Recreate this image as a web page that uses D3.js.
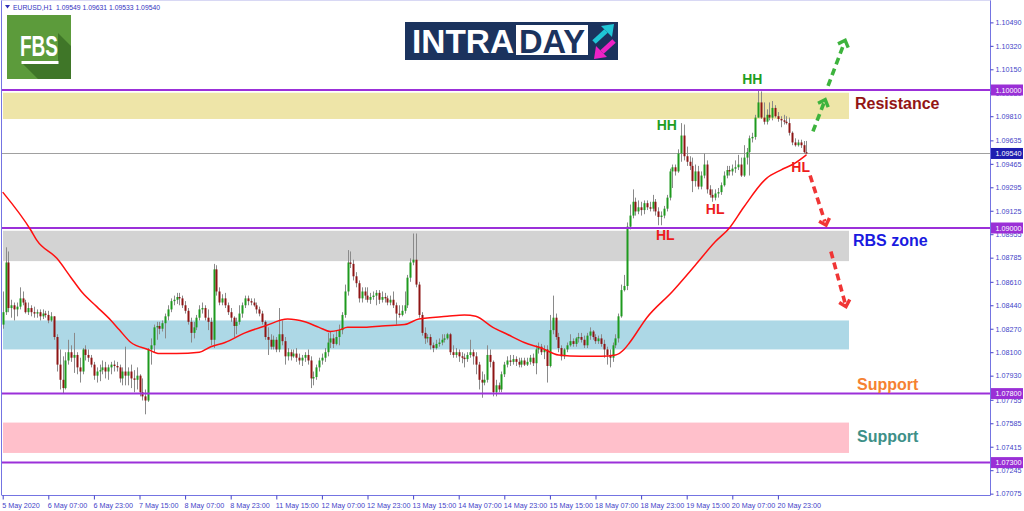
<!DOCTYPE html>
<html><head><meta charset="utf-8">
<script src="https://cdn.jsdelivr.net/npm/d3@7"></script>
<style>html,body{margin:0;padding:0;background:#fff;overflow:hidden}svg{display:block}</style>
</head><body><svg id="c" width="1024" height="511"></svg>
<script>
// ---------------- DATA ----------------
const headerText = "EURUSD,H1  1.09549 1.09631 1.09533 1.09540";
const timeLabels = ["5 May 2020","6 May 07:00","6 May 23:00","7 May 15:00","8 May 07:00","8 May 23:00",
  "11 May 15:00","12 May 07:00","12 May 23:00","13 May 15:00","14 May 07:00","14 May 23:00",
  "15 May 15:00","18 May 07:00","18 May 23:00","19 May 15:00","20 May 07:00","20 May 23:00"];
const barsPerLabel = 16;
const priceTicks = [1.10490,1.10320,1.10150,1.09980,1.09810,1.09635,1.09465,1.09295,1.09125,1.08955,
  1.08785,1.08610,1.08440,1.08270,1.08100,1.07930,1.07755,1.07585,1.07415,1.07245,1.07075];
// hourly candles: [open, high, low, close]
const ohlc = [
[1.0830,1.0854,1.0827,1.0839],[1.0839,1.0886,1.0837,1.0875],[1.0875,1.0883,1.0839,1.0842],[1.0842,1.0848,1.0835,1.0844],[1.0844,1.0846,1.0833,1.0841],
[1.0841,1.0846,1.0836,1.0843],[1.0843,1.0857,1.0841,1.0849],[1.0849,1.0854,1.0844,1.0846],[1.0846,1.0848,1.0838,1.0839],[1.0839,1.0846,1.0837,1.0842],
[1.0842,1.0844,1.0836,1.0839],[1.0839,1.0843,1.0835,1.0838],[1.0838,1.0841,1.0835,1.0839],[1.0839,1.0841,1.0833,1.0836],[1.0836,1.0841,1.0834,1.0838],
[1.0838,1.0840,1.0835,1.0837],[1.0837,1.0840,1.0831,1.0833],[1.0833,1.0839,1.0832,1.0836],[1.0836,1.0836,1.0819,1.0821],[1.0821,1.0823,1.0796,1.0801],
[1.0801,1.0812,1.0783,1.0790],[1.0790,1.0807,1.0780,1.0784],[1.0784,1.0810,1.0783,1.0804],[1.0804,1.0819,1.0801,1.0810],[1.0810,1.0815,1.0803,1.0806],
[1.0806,1.0824,1.0795,1.0808],[1.0808,1.0810,1.0794,1.0799],[1.0799,1.0806,1.0788,1.0796],[1.0796,1.0813,1.0794,1.0812],[1.0812,1.0815,1.0804,1.0808],
[1.0808,1.0812,1.0803,1.0806],[1.0806,1.0808,1.0799,1.0801],[1.0801,1.0803,1.0790,1.0793],[1.0793,1.0799,1.0788,1.0796],[1.0796,1.0801,1.0789,1.0797],
[1.0797,1.0804,1.0794,1.0799],[1.0799,1.0803,1.0791,1.0796],[1.0796,1.0801,1.0790,1.0799],[1.0799,1.0803,1.0794,1.0801],[1.0801,1.0804,1.0796,1.0800],
[1.0800,1.0803,1.0796,1.0799],[1.0799,1.0801,1.0788,1.0791],[1.0791,1.0799,1.0786,1.0796],[1.0796,1.0814,1.0786,1.0793],[1.0793,1.0799,1.0786,1.0796],
[1.0796,1.0801,1.0784,1.0791],[1.0791,1.0797,1.0781,1.0790],[1.0790,1.0799,1.0783,1.0793],[1.0793,1.0794,1.0778,1.0781],[1.0781,1.0791,1.0775,1.0778],
[1.0778,1.0783,1.0765,1.0775],[1.0775,1.0813,1.0774,1.0812],[1.0812,1.0820,1.0801,1.0815],[1.0815,1.0830,1.0810,1.0828],[1.0828,1.0832,1.0819,1.0829],
[1.0829,1.0832,1.0823,1.0827],[1.0827,1.0833,1.0825,1.0831],[1.0831,1.0838,1.0820,1.0836],[1.0836,1.0844,1.0833,1.0841],[1.0841,1.0849,1.0839,1.0847],
[1.0847,1.0851,1.0844,1.0848],[1.0848,1.0853,1.0845,1.0850],[1.0850,1.0853,1.0844,1.0849],[1.0849,1.0851,1.0842,1.0844],[1.0844,1.0847,1.0838,1.0840],
[1.0840,1.0842,1.0830,1.0832],[1.0832,1.0835,1.0817,1.0824],[1.0824,1.0832,1.0820,1.0828],[1.0828,1.0837,1.0826,1.0835],[1.0835,1.0844,1.0833,1.0841],
[1.0841,1.0846,1.0838,1.0842],[1.0842,1.0844,1.0833,1.0835],[1.0835,1.0841,1.0826,1.0832],[1.0832,1.0835,1.0815,1.0819],[1.0819,1.0874,1.0813,1.0870],
[1.0870,1.0873,1.0851,1.0854],[1.0854,1.0857,1.0844,1.0846],[1.0846,1.0852,1.0844,1.0849],[1.0849,1.0853,1.0842,1.0844],[1.0844,1.0846,1.0837,1.0839],
[1.0839,1.0842,1.0832,1.0835],[1.0835,1.0836,1.0821,1.0829],[1.0829,1.0835,1.0823,1.0832],[1.0832,1.0844,1.0830,1.0838],[1.0838,1.0846,1.0835,1.0844],
[1.0844,1.0851,1.0842,1.0849],[1.0849,1.0851,1.0844,1.0847],[1.0847,1.0849,1.0844,1.0846],[1.0846,1.0849,1.0843,1.0844],[1.0844,1.0846,1.0838,1.0841],
[1.0841,1.0843,1.0836,1.0838],[1.0838,1.0840,1.0830,1.0832],[1.0832,1.0833,1.0819,1.0821],[1.0821,1.0828,1.0808,1.0819],[1.0819,1.0823,1.0812,1.0814],
[1.0814,1.0822,1.0812,1.0819],[1.0819,1.0821,1.0810,1.0812],[1.0812,1.0842,1.0810,1.0823],[1.0823,1.0833,1.0815,1.0818],[1.0818,1.0821,1.0801,1.0807],
[1.0807,1.0813,1.0804,1.0810],[1.0810,1.0812,1.0804,1.0807],[1.0807,1.0812,1.0806,1.0809],[1.0809,1.0813,1.0803,1.0806],[1.0806,1.0809,1.0801,1.0804],
[1.0804,1.0808,1.0800,1.0806],[1.0806,1.0810,1.0803,1.0808],[1.0808,1.0812,1.0801,1.0804],[1.0804,1.0807,1.0784,1.0791],[1.0791,1.0796,1.0786,1.0792],
[1.0792,1.0801,1.0790,1.0799],[1.0799,1.0806,1.0796,1.0804],[1.0804,1.0809,1.0801,1.0806],[1.0806,1.0813,1.0803,1.0810],[1.0810,1.0824,1.0807,1.0817],
[1.0817,1.0825,1.0813,1.0820],[1.0820,1.0823,1.0813,1.0816],[1.0816,1.0826,1.0815,1.0821],[1.0821,1.0830,1.0815,1.0826],[1.0826,1.0839,1.0823,1.0837],
[1.0837,1.0859,1.0835,1.0854],[1.0854,1.0884,1.0851,1.0875],[1.0875,1.0883,1.0871,1.0874],[1.0874,1.0877,1.0862,1.0865],[1.0865,1.0868,1.0857,1.0860],
[1.0860,1.0862,1.0846,1.0849],[1.0849,1.0857,1.0846,1.0854],[1.0854,1.0857,1.0848,1.0851],[1.0851,1.0857,1.0846,1.0848],[1.0848,1.0853,1.0845,1.0850],
[1.0850,1.0854,1.0848,1.0851],[1.0851,1.0855,1.0844,1.0853],[1.0853,1.0855,1.0845,1.0848],[1.0848,1.0854,1.0846,1.0850],[1.0850,1.0853,1.0846,1.0849],
[1.0849,1.0851,1.0844,1.0846],[1.0846,1.0851,1.0844,1.0848],[1.0848,1.0854,1.0842,1.0844],[1.0844,1.0846,1.0830,1.0838],[1.0838,1.0844,1.0835,1.0837],
[1.0837,1.0844,1.0836,1.0840],[1.0840,1.0854,1.0838,1.0844],[1.0844,1.0866,1.0842,1.0864],[1.0864,1.0878,1.0861,1.0875],[1.0875,1.0896,1.0873,1.0877],
[1.0877,1.0896,1.0857,1.0859],[1.0859,1.0861,1.0835,1.0837],[1.0837,1.0839,1.0822,1.0824],[1.0824,1.0828,1.0816,1.0820],[1.0820,1.0823,1.0817,1.0821],
[1.0821,1.0823,1.0812,1.0815],[1.0815,1.0817,1.0810,1.0813],[1.0813,1.0819,1.0812,1.0816],[1.0816,1.0820,1.0814,1.0817],[1.0817,1.0823,1.0815,1.0819],
[1.0819,1.0823,1.0817,1.0820],[1.0820,1.0824,1.0819,1.0823],[1.0823,1.0824,1.0808,1.0810],[1.0810,1.0815,1.0806,1.0808],[1.0808,1.0813,1.0806,1.0810],
[1.0810,1.0812,1.0803,1.0807],[1.0807,1.0810,1.0802,1.0806],[1.0806,1.0809,1.0799,1.0805],[1.0805,1.0810,1.0803,1.0808],[1.0808,1.0819,1.0806,1.0810],
[1.0810,1.0812,1.0801,1.0807],[1.0807,1.0810,1.0794,1.0801],[1.0801,1.0803,1.0783,1.0790],[1.0790,1.0796,1.0777,1.0788],[1.0788,1.0794,1.0786,1.0790],
[1.0790,1.0815,1.0788,1.0808],[1.0808,1.0812,1.0799,1.0803],[1.0803,1.0804,1.0778,1.0781],[1.0781,1.0790,1.0778,1.0786],[1.0786,1.0788,1.0781,1.0783],
[1.0783,1.0796,1.0781,1.0794],[1.0794,1.0803,1.0792,1.0801],[1.0801,1.0807,1.0799,1.0804],[1.0804,1.0808,1.0800,1.0803],[1.0803,1.0808,1.0801,1.0805],
[1.0805,1.0807,1.0800,1.0803],[1.0803,1.0806,1.0799,1.0801],[1.0801,1.0806,1.0799,1.0804],[1.0804,1.0806,1.0800,1.0801],[1.0801,1.0806,1.0800,1.0803],
[1.0803,1.0808,1.0801,1.0806],[1.0806,1.0809,1.0800,1.0802],[1.0802,1.0815,1.0794,1.0812],[1.0812,1.0817,1.0809,1.0814],[1.0814,1.0816,1.0808,1.0810],
[1.0810,1.0815,1.0805,1.0812],[1.0812,1.0815,1.0788,1.0800],[1.0800,1.0837,1.0799,1.0826],[1.0826,1.0851,1.0823,1.0835],[1.0835,1.0838,1.0819,1.0821],
[1.0821,1.0824,1.0810,1.0813],[1.0813,1.0815,1.0804,1.0807],[1.0807,1.0813,1.0805,1.0812],[1.0812,1.0817,1.0810,1.0815],[1.0815,1.0823,1.0814,1.0818],
[1.0818,1.0820,1.0814,1.0816],[1.0816,1.0821,1.0814,1.0820],[1.0820,1.0824,1.0817,1.0821],[1.0821,1.0824,1.0817,1.0819],[1.0819,1.0822,1.0813,1.0815],
[1.0815,1.0824,1.0813,1.0822],[1.0822,1.0828,1.0819,1.0825],[1.0825,1.0826,1.0819,1.0821],[1.0821,1.0823,1.0816,1.0818],[1.0818,1.0822,1.0816,1.0820],
[1.0820,1.0823,1.0814,1.0816],[1.0816,1.0819,1.0806,1.0812],[1.0812,1.0814,1.0801,1.0808],[1.0808,1.0812,1.0799,1.0806],[1.0806,1.0817,1.0803,1.0815],
[1.0815,1.0823,1.0813,1.0820],[1.0820,1.0838,1.0817,1.0836],[1.0836,1.0859,1.0835,1.0855],[1.0855,1.0866,1.0854,1.0858],[1.0858,1.0904,1.0855,1.0901],
[1.0901,1.0917,1.0899,1.0909],[1.0909,1.0928,1.0907,1.0919],[1.0919,1.0922,1.0909,1.0912],[1.0912,1.0920,1.0910,1.0915],[1.0915,1.0919,1.0909,1.0913],
[1.0913,1.0920,1.0910,1.0918],[1.0918,1.0920,1.0913,1.0915],[1.0915,1.0919,1.0912,1.0914],[1.0914,1.0924,1.0912,1.0919],[1.0919,1.0921,1.0909,1.0912],
[1.0912,1.0915,1.0902,1.0908],[1.0908,1.0912,1.0902,1.0909],[1.0909,1.0916,1.0907,1.0914],[1.0914,1.0924,1.0912,1.0922],[1.0922,1.0943,1.0920,1.0941],
[1.0941,1.0946,1.0929,1.0944],[1.0944,1.0946,1.0938,1.0941],[1.0941,1.0957,1.0940,1.0954],[1.0954,1.0976,1.0948,1.0967],[1.0967,1.0975,1.0949,1.0952],
[1.0952,1.0959,1.0945,1.0948],[1.0948,1.0952,1.0942,1.0945],[1.0945,1.0951,1.0926,1.0934],[1.0934,1.0946,1.0930,1.0941],[1.0941,1.0945,1.0928,1.0930],
[1.0930,1.0941,1.0928,1.0938],[1.0938,1.0954,1.0936,1.0946],[1.0946,1.0949,1.0925,1.0928],[1.0928,1.0931,1.0922,1.0924],[1.0924,1.0928,1.0919,1.0922],
[1.0922,1.0928,1.0920,1.0925],[1.0925,1.0929,1.0922,1.0926],[1.0926,1.0933,1.0924,1.0931],[1.0931,1.0941,1.0930,1.0938],[1.0938,1.0945,1.0936,1.0942],
[1.0942,1.0945,1.0938,1.0941],[1.0941,1.0946,1.0938,1.0943],[1.0943,1.0949,1.0940,1.0944],[1.0944,1.0953,1.0942,1.0946],[1.0946,1.0951,1.0937,1.0938],
[1.0938,1.0960,1.0937,1.0951],[1.0951,1.0958,1.0946,1.0955],[1.0955,1.0967,1.0938,1.0965],[1.0965,1.0969,1.0962,1.0966],[1.0966,1.0982,1.0964,1.0980],
[1.0980,1.1000,1.0980,1.0991],[1.0991,1.0999,1.0979,1.0980],[1.0980,1.0991,1.0975,1.0977],[1.0977,1.0986,1.0975,1.0982],[1.0982,1.0991,1.0978,1.0980],
[1.0980,1.0992,1.0978,1.0987],[1.0987,1.0989,1.0980,1.0981],[1.0981,1.0984,1.0977,1.0979],[1.0979,1.0981,1.0973,1.0978],[1.0978,1.0982,1.0975,1.0977],
[1.0977,1.0981,1.0975,1.0976],[1.0976,1.0980,1.0967,1.0969],[1.0969,1.0970,1.0960,1.0962],[1.0962,1.0965,1.0959,1.0960],[1.0960,1.0964,1.0959,1.0962],
[1.0962,1.0964,1.0958,1.0960],[1.0960,1.0963,1.0954,1.0955],[1.09549,1.09631,1.09533,1.09540]
];
// moving average read at these bars
const maIndex = [0,10,12,19,24,28,33,38,41,45,51,55,61,69,73,78,85,92,100,106,111,115,118,121,127,133,141,146,156,162,166,172,177,183,189,195,203,210,215,218,220,226,235,243,250,255,260,268,273,278,282];
const maValue = [1.0926,1.0898,1.0891,1.0878,1.0864,1.0853,1.0843,1.0833,1.0826,1.0817,1.0812,1.0809,1.0809,1.0810,1.0814,1.0817,1.0824,1.0829,1.0834,1.0832,1.0828,1.0825,1.0826,1.0828,1.0828,1.0829,1.0830,1.0834,1.0836,1.0837,1.0836,1.0828,1.0823,1.0817,1.0813,1.0808,1.0807,1.0807,1.0808,1.0812,1.0817,1.0835,1.0854,1.0873,1.0890,1.0900,1.0915,1.0936,1.0942,1.0947,1.0953];
const levelLines = [1.10000, 1.09000, 1.07800, 1.07300];
const currentPrice = 1.09540;
const zoneHigh = [1.0998, 1.0898, 1.0833, 1.0759];
const zoneLow  = [1.0979, 1.0876, 1.0812, 1.0737];
const zoneNames = ["Resistance", "RBS zone", "Support", "Support"];
const zoneNamePrice = [1.0990, 1.0891, 1.0787, 1.0749];
const swingText  = ["HH","HH","HL","HL","HL"];
const swingBar   = [233, 263, 232.5, 250, 280];
const swingPrice = [1.0975, 1.1008, 1.0895, 1.0914, 1.0944];
// projection arrows: [startBar, startPrice, endBar, endPrice]
const upArrows   = [[284.3,1.0970,288.6,1.0993],[289.6,1.1003,295.6,1.1036]];
const downArrows = [[283.3,1.0938,288.9,1.0902],[290.6,1.0883,295.9,1.0843]];

// ---------------- DRAWING ----------------
const svg = d3.select('#c');
const axisColor = '#4343C8', frameColor = '#7474E2';
const levelColor = '#9B30D9';
const N = ohlc.length;
const x = d3.scaleLinear().domain([0, N - 1]).range([2.7, 806.4]);
const y = d3.scaleLinear().domain([1.09, 1.10]).range([228, 90]);
const plot = {l: 2, r: 990, t: 1, b: 495};
const zoneRight = 849;

svg.append('defs').append('clipPath').attr('id','pc').append('rect')
  .attr('x', plot.l).attr('y', plot.t).attr('width', plot.r - plot.l).attr('height', plot.b - plot.t);
const g = svg.append('g').attr('clip-path','url(#pc)');

// zones
const zoneColors = ['#EEE5A8', '#D3D3D3', '#ADD8E6', '#FFC0CB'];
g.selectAll('rect.zone').data(zoneHigh).join('rect').attr('class','zone')
  .attr('x', plot.l + 1).attr('width', zoneRight - plot.l - 1)
  .attr('y', (d) => y(d)).attr('height', (d, i) => y(zoneLow[i]) - y(d))
  .attr('fill', (d, i) => zoneColors[i]);

// current price line
g.append('line').attr('x1', plot.l).attr('x2', plot.r)
  .attr('y1', Math.round(y(currentPrice)) + 0.5).attr('y2', Math.round(y(currentPrice)) + 0.5)
  .attr('stroke', '#a0a0a0').attr('stroke-width', 1);

// candles
const cg = g.append('g');
ohlc.forEach((d, i) => {
  const [o, h, l, c] = d;
  const cx = Math.round(x(i)) + 0.5;
  cg.append('line').attr('x1', cx).attr('x2', cx).attr('y1', y(h)).attr('y2', y(l))
    .attr('stroke', '#8a8a8a').attr('stroke-width', 1);
  const top = y(Math.max(o, c)), bot = y(Math.min(o, c));
  cg.append('rect').attr('x', cx - 1).attr('width', 2)
    .attr('y', top).attr('height', Math.max(1, bot - top))
    .attr('fill', c >= o ? '#1E9A1E' : '#8E1414');
});

// level lines
g.selectAll('line.lvl').data(levelLines).join('line').attr('class','lvl')
  .attr('x1', plot.l).attr('x2', plot.r).attr('y1', (d) => y(d)).attr('y2', (d) => y(d))
  .attr('stroke', levelColor).attr('stroke-width', 2);

// moving average
const ma = maIndex.map((b, i) => [b, maValue[i]]);
g.append('path').datum(ma)
  .attr('d', d3.line().x((d) => x(d[0])).y((d) => y(d[1])).curve(d3.curveMonotoneX))
  .attr('fill', 'none').attr('stroke', '#FF1010').attr('stroke-width', 1.5);

// frame
svg.append('line').attr('x1', 1.5).attr('x2', 1.5).attr('y1', 0).attr('y2', plot.b).attr('stroke', frameColor);
svg.append('line').attr('x1', plot.r + 0.5).attr('x2', plot.r + 0.5).attr('y1', 0).attr('y2', plot.b + 0.5).attr('stroke', frameColor);
svg.append('line').attr('x1', 1.5).attr('x2', plot.r + 0.5).attr('y1', plot.b + 0.5).attr('y2', plot.b + 0.5).attr('stroke', frameColor);
svg.append('line').attr('x1', 1.5).attr('x2', plot.r + 0.5).attr('y1', 0.5).attr('y2', 0.5).attr('stroke', '#d8d8f4');

// right axis
const gy = svg.append('g').attr('transform', `translate(${plot.r + 0.5},0)`)
  .call(d3.axisRight(y).tickValues(priceTicks).tickFormat(d3.format('.5f')).tickSize(3).tickPadding(2));
gy.select('.domain').remove();
gy.selectAll('line').attr('stroke', axisColor);
gy.selectAll('text').attr('fill', axisColor).attr('font-family', 'Liberation Sans, Arial, sans-serif').attr('font-size', 7.2);

// bottom axis
const gx = svg.append('g').attr('transform', `translate(0,${plot.b + 0.5})`)
  .call(d3.axisBottom(x).tickValues(timeLabels.map((t, k) => k * barsPerLabel))
    .tickFormat((d, k) => timeLabels[k]).tickSize(4).tickPadding(3));
gx.select('.domain').remove();
gx.selectAll('line').attr('stroke', axisColor);
gx.selectAll('text').attr('fill', axisColor).attr('text-anchor', 'start').attr('dx', -1)
  .attr('font-family', 'Liberation Sans, Arial, sans-serif').attr('font-size', 7.2);

// price boxes
const boxes = levelLines.map((v) => ({v, c: '#9A2FD6'})).concat([{v: currentPrice, c: '#1E1EB0'}]);
const bg = svg.append('g');
boxes.forEach((b) => {
  bg.append('rect').attr('x', plot.r + 1).attr('y', y(b.v) - 5.5).attr('width', 32).attr('height', 11).attr('fill', b.c);
  bg.append('text').attr('x', plot.r + 5.5).attr('y', y(b.v) + 2.6).text(d3.format('.5f')(b.v))
    .attr('fill', '#fff').attr('font-family', 'Liberation Sans, Arial, sans-serif').attr('font-size', 7.2);
});

// header
svg.append('path').attr('d', 'M5,5 L10,5 L7.5,8.5 Z').attr('fill', '#2F2FB8');
svg.append('text').attr('x', 13).attr('y', 9.5).text(headerText)
  .style('white-space', 'pre')
  .attr('fill', '#3333C0').attr('font-family', 'Liberation Sans, Arial, sans-serif').attr('font-size', 6.8);

// zone labels
const zoneTextColors = ['#931515', '#1A1AE0', '#F58232', '#3D9088'];
const zoneTextX = [855, 853, 857, 857];
zoneNames.forEach((t, i) => {
  svg.append('text').attr('x', zoneTextX[i]).attr('y', y(zoneNamePrice[i])).attr('dy', '0.35em').text(t)
    .attr('fill', zoneTextColors[i]).attr('font-weight', 'bold')
    .attr('font-family', 'Liberation Sans, Arial, sans-serif').attr('font-size', 16);
});

// swing labels
swingText.forEach((t, i) => {
  svg.append('text').attr('x', x(swingBar[i])).attr('y', y(swingPrice[i])).attr('dy', '0.36em')
    .attr('text-anchor', 'middle').text(t)
    .attr('fill', t === 'HH' ? '#1F9E1F' : '#EE1C1C').attr('font-weight', 'bold')
    .attr('font-family', 'Liberation Sans, Arial, sans-serif').attr('font-size', 14);
});

// projection arrows
function drawArrow(a, color) {
  const x1 = x(a[0]), y1 = y(a[1]), x2 = x(a[2]), y2 = y(a[3]);
  const ang = Math.atan2(y2 - y1, x2 - x1);
  svg.append('line').attr('x1', x1).attr('y1', y1)
    .attr('x2', x2 - 4 * Math.cos(ang)).attr('y2', y2 - 4 * Math.sin(ang))
    .attr('stroke', color).attr('stroke-width', 3.6).attr('stroke-dasharray', '7,4.5');
  const L = 8, spread = 0.75;
  const p1 = [x2 - L * Math.cos(ang - spread), y2 - L * Math.sin(ang - spread)];
  const p2 = [x2 - L * Math.cos(ang + spread), y2 - L * Math.sin(ang + spread)];
  svg.append('path').attr('d', `M${p1[0]},${p1[1]} L${x2},${y2} L${p2[0]},${p2[1]}`)
    .attr('fill', 'none').attr('stroke', color).attr('stroke-width', 3.4).attr('stroke-linejoin', 'miter');
}
upArrows.forEach((a) => drawArrow(a, '#3DB33D'));
downArrows.forEach((a) => drawArrow(a, '#F03535'));

// FBS logo
const fbs = svg.append('g');
fbs.append('rect').attr('x', 7).attr('y', 15).attr('width', 64).attr('height', 64).attr('fill', '#5C9B3B');
fbs.append('path').attr('d', 'M58,33 L71,46 L71,79 L38,79 L23,64 L58,64 Z').attr('fill', '#3F7628');
fbs.append('text').attr('x', 20).attr('y', 55.5).text('FBS').attr('fill', '#fff').attr('font-weight', 'bold')
  .attr('font-family', 'Liberation Sans, Arial, sans-serif').attr('font-size', 30)
  .attr('textLength', 38).attr('lengthAdjust', 'spacingAndGlyphs');
fbs.append('rect').attr('x', 21.5).attr('y', 61).attr('width', 37).attr('height', 3).attr('fill', '#fff');

// INTRADAY logo
const lg = svg.append('g');
lg.append('rect').attr('x', 405).attr('y', 22).attr('width', 213).attr('height', 38).attr('fill', '#1B335E');
lg.append('text').attr('x', 412).attr('y', 52.5).text('INTRA').attr('fill', '#fff').attr('font-weight', 'bold')
  .attr('font-family', 'Liberation Sans, Arial, sans-serif').attr('font-size', 34)
  .attr('textLength', 102).attr('lengthAdjust', 'spacingAndGlyphs');
lg.append('rect').attr('x', 516).attr('y', 25).attr('width', 72).attr('height', 30).attr('fill', '#fff');
lg.append('text').attr('x', 519).attr('y', 52.5).text('DAY').attr('fill', '#1B335E').attr('font-weight', 'bold')
  .attr('font-family', 'Liberation Sans, Arial, sans-serif').attr('font-size', 34)
  .attr('textLength', 66).attr('lengthAdjust', 'spacingAndGlyphs');
lg.append('line').attr('x1', 594).attr('y1', 42).attr('x2', 606).attr('y2', 31).attr('stroke', '#1FC6D6').attr('stroke-width', 5);
lg.append('path').attr('d', 'M614,24 L601,26 L612,37 Z').attr('fill', '#1FC6D6');
lg.append('line').attr('x1', 614).attr('y1', 41).attr('x2', 602).attr('y2', 52).attr('stroke', '#EE22C6').attr('stroke-width', 5);
lg.append('path').attr('d', 'M594,59 L596,46 L607,57 Z').attr('fill', '#EE22C6');
</script>
</body></html>
